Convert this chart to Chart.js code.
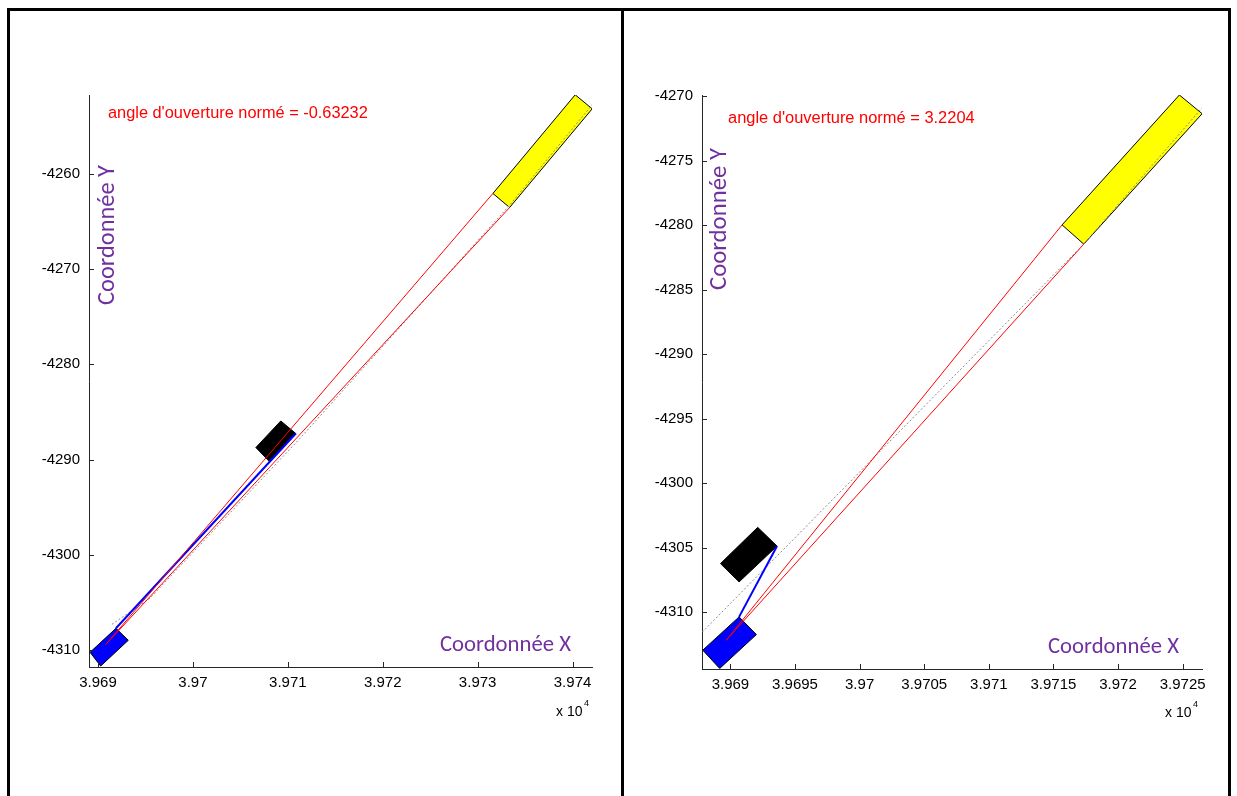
<!DOCTYPE html>
<html>
<head>
<meta charset="utf-8">
<script src="https://cdn.jsdelivr.net/npm/chart.js@4.4.0/dist/chart.umd.min.js"></script>
<style>
html,body{margin:0;padding:0;background:#fff;width:1237px;height:796px;overflow:hidden}
canvas{position:absolute;left:0;top:0}
#frame{position:absolute;left:7px;top:8px;width:1224px;height:800px;border:3px solid #000;border-bottom:none;box-sizing:border-box;z-index:5}
#divider{position:absolute;left:621px;top:8px;width:3px;height:800px;background:#000;z-index:5}
</style>
</head>
<body>
<canvas id="c1" width="1237" height="796"></canvas>
<canvas id="c2" width="1237" height="796"></canvas>
<div id="frame"></div><div id="divider"></div>
<script>
// ---------- Panneau gauche ----------
const leftXTicks = [39690, 39700, 39710, 39720, 39730, 39740];
const leftYTicks = [-4310, -4300, -4290, -4280, -4270, -4260];
const leftXRange = [39689.05, 39742.05];
const leftYRange = [-4311.75, -4251.75];
const leftAngleText = "angle d'ouverture normé = -0.63232";
const leftYellow = [[39740.28, -4251.73], [39742.07, -4253.20], [39733.37, -4263.55], [39731.61, -4262.08]];
const leftBlack  = [[39706.63, -4288.73], [39709.26, -4285.94], [39710.84, -4287.26], [39708.03, -4290.17]];
const leftBlue   = [[39689.16, -4310.21], [39691.89, -4307.69], [39693.19, -4308.95], [39690.28, -4311.65]];
const leftBlueLine = [[39691.89, -4307.69], [39710.84, -4287.26]];
const leftRedA = [[39690.81, -4309.40], [39731.61, -4262.08]];
const leftRedB = [[39690.81, -4309.40], [39733.37, -4263.55]];
const leftGray = [[39691.47, -4307.27], [39695.47, -4304.54], [39711.26, -4287.79], [39733.37, -4263.31], [39742.11, -4252.71]];

// ---------- Panneau droit ----------
const rightXTicks = [39690, 39695, 39700, 39705, 39710, 39715, 39720, 39725];
const rightYTicks = [-4310, -4305, -4300, -4295, -4290, -4285, -4280, -4275, -4270];
const rightXRange = [39687.8, 39726.5];
const rightYRange = [-4314.4, -4269.9];
const rightAngleText = "angle d'ouverture normé = 3.2204";
const rightYellow = [[39724.75, -4269.9], [39726.51, -4271.35], [39717.35, -4281.46], [39715.67, -4279.97]];
const rightBlack  = [[39689.23, -4306.23], [39692.11, -4303.42], [39693.61, -4304.87], [39690.67, -4307.65]];
const rightBlue   = [[39687.86, -4312.94], [39690.67, -4310.36], [39692.01, -4311.73], [39689.17, -4314.36]];
const rightBlueLine = [[39690.67, -4310.36], [39693.61, -4304.87]];
const rightRedA = [[39689.67, -4312.17], [39715.67, -4279.97]];
const rightRedB = [[39689.67, -4312.17], [39717.35, -4281.46]];
const rightGray = [[39687.81, -4311.55], [39717.35, -4281.46], [39726.51, -4270.89]];

const TICK_FONT = "'Liberation Sans', Arial, sans-serif";
const PURPLE_FONT = "Carlito, Calibri, Lato, 'Open Sans', sans-serif";
const PURPLE = '#7030A0';

function toPts(arr) { return arr.map(p => ({x: p[0], y: p[1]})); }

function lineDs(arr, color, width, dash) {
  return {data: toPts(arr), showLine: true, pointRadius: 0, pointHoverRadius: 0, tension: 0,
          borderColor: color, borderWidth: width, borderDash: dash || [], fill: false};
}

// split a rotated rectangle into upper/lower chains sharing left- and right-most corners
function rectDs(corners, color) {
  const s = corners.slice().sort((a, b) => a[0] - b[0]);
  const L = s[0], R = s[3];
  const mids = [s[1], s[2]];
  const side = p => (R[0] - L[0]) * (p[1] - L[1]) - (R[1] - L[1]) * (p[0] - L[0]);
  const top = side(mids[0]) > 0 ? mids[0] : mids[1];
  const bot = top === mids[0] ? mids[1] : mids[0];
  const up = lineDs([L, top, R], '#000', 1);
  up.fill = '+1'; up.backgroundColor = color;
  const lo = lineDs([L, bot, R], '#000', 1);
  return [up, lo];
}

const inwardTicks = {
  id: 'inwardTicks',
  afterDatasetsDraw(chart) {
    const {ctx, chartArea: a, scales: {x, y}} = chart;
    ctx.save();
    ctx.strokeStyle = '#262626'; ctx.lineWidth = 1;
    ctx.beginPath();
    x.ticks.forEach(t => { const p = Math.round(x.getPixelForValue(t.value)) + 0.5; ctx.moveTo(p, a.bottom); ctx.lineTo(p, a.bottom - 5); });
    y.ticks.forEach(t => { const p = Math.round(y.getPixelForValue(t.value)) + 0.5; ctx.moveTo(a.left, p); ctx.lineTo(a.left + 5, p); });
    ctx.stroke();
    ctx.restore();
  }
};

const texts = {
  id: 'texts',
  afterDraw(chart, args, opts) {
    const ctx = chart.ctx;
    (opts.items || []).forEach(it => {
      ctx.save();
      let size = it.size;
      if (it.fitWidth) { ctx.font = '100px ' + it.family; size = 100 * it.fitWidth / ctx.measureText(it.text).width; }
      ctx.font = size + 'px ' + it.family;
      ctx.fillStyle = it.color;
      ctx.textAlign = it.align || 'left';
      ctx.textBaseline = 'middle';
      ctx.translate(it.x, it.y);
      if (it.rotate) ctx.rotate(it.rotate);
      ctx.fillText(it.text, 0, 0);
      ctx.restore();
    });
  }
};

function makeChart(id, p) {
  const yW = 60, xH = 40;
  const datasets = [
    lineDs(p.redA, '#ff0000', 1),
    lineDs(p.redB, '#ff0000', 1),
    lineDs(p.blueLine, '#0000ff', 2),
    lineDs(p.gray, '#8c8c8c', 1, [2, 2]),
    ...rectDs(p.blue, '#0000ff'),
    ...rectDs(p.black, '#000000'),
    ...rectDs(p.yellow, '#ffff00')
  ];
  const axisCommon = {
    type: 'linear',
    grid: {display: true, drawOnChartArea: false, drawTicks: false},
    border: {display: true, color: '#262626', width: 1}
  };
  return new Chart(document.getElementById(id), {
    type: 'scatter',
    data: {datasets},
    options: {
      responsive: false, animation: false, devicePixelRatio: 1,
      layout: {padding: {left: p.area.left - yW, top: p.area.top, right: 1237 - p.area.right, bottom: 796 - p.area.bottom - xH}},
      plugins: {legend: {display: false}, tooltip: {enabled: false}, filler: {drawTime: 'beforeDatasetsDraw'},
                texts: {items: p.texts}},
      scales: {
        x: Object.assign({}, axisCommon, {
          min: p.xRange[0], max: p.xRange[1],
          afterBuildTicks: s => { s.ticks = p.xTicks.map(v => ({value: v})); },
          afterFit: s => { s.height = xH; },
          ticks: {autoSkip: false, maxRotation: 0, padding: 7, color: '#000',
                  font: {family: TICK_FONT, size: 15},
                  callback: v => String(+(v / 1e4).toFixed(4))}
        }),
        y: Object.assign({}, axisCommon, {
          min: p.yRange[0], max: p.yRange[1],
          afterBuildTicks: s => { s.ticks = p.yTicks.map(v => ({value: v})); },
          afterFit: s => { s.width = yW; },
          ticks: {autoSkip: false, padding: 9, color: '#000',
                  font: {family: TICK_FONT, size: 15},
                  callback: v => String(v)}
        })
      }
    },
    plugins: [inwardTicks, texts]
  });
}

function panelTexts(angleText, ax, ay, aw, yTitle, xTitle, mult) {
  return [
    {text: angleText, x: ax, y: ay, color: '#ff0000', family: TICK_FONT, fitWidth: aw},
    {text: 'Coordonnée Y', x: yTitle[0], y: yTitle[1], color: PURPLE, family: PURPLE_FONT, fitWidth: yTitle[2], align: 'center', rotate: -Math.PI / 2},
    {text: 'Coordonnée X', x: xTitle[0], y: xTitle[1], color: PURPLE, family: PURPLE_FONT, fitWidth: xTitle[2]},
    {text: 'x 10', x: mult[0], y: mult[1], color: '#000', family: TICK_FONT, size: 14},
    {text: '4', x: mult[0] + 28, y: mult[1] - 8, color: '#000', family: TICK_FONT, size: 9}
  ];
}

makeChart('c1', {
  area: {left: 89, top: 95, right: 592, bottom: 667},
  xRange: leftXRange, yRange: leftYRange, xTicks: leftXTicks, yTicks: leftYTicks,
  yellow: leftYellow, black: leftBlack, blue: leftBlue, blueLine: leftBlueLine,
  redA: leftRedA, redB: leftRedB, gray: leftGray,
  texts: panelTexts(leftAngleText, 108, 113, 260, [108, 235, 140], [440, 645, 131], [556, 712])
});

makeChart('c2', {
  area: {left: 702, top: 95, right: 1202, bottom: 669},
  xRange: rightXRange, yRange: rightYRange, xTicks: rightXTicks, yTicks: rightYTicks,
  yellow: rightYellow, black: rightBlack, blue: rightBlue, blueLine: rightBlueLine,
  redA: rightRedA, redB: rightRedB, gray: rightGray,
  texts: panelTexts(rightAngleText, 728, 118, 247, [720, 219, 142], [1048, 647, 131], [1165, 713])
});
</script>
</body>
</html>
